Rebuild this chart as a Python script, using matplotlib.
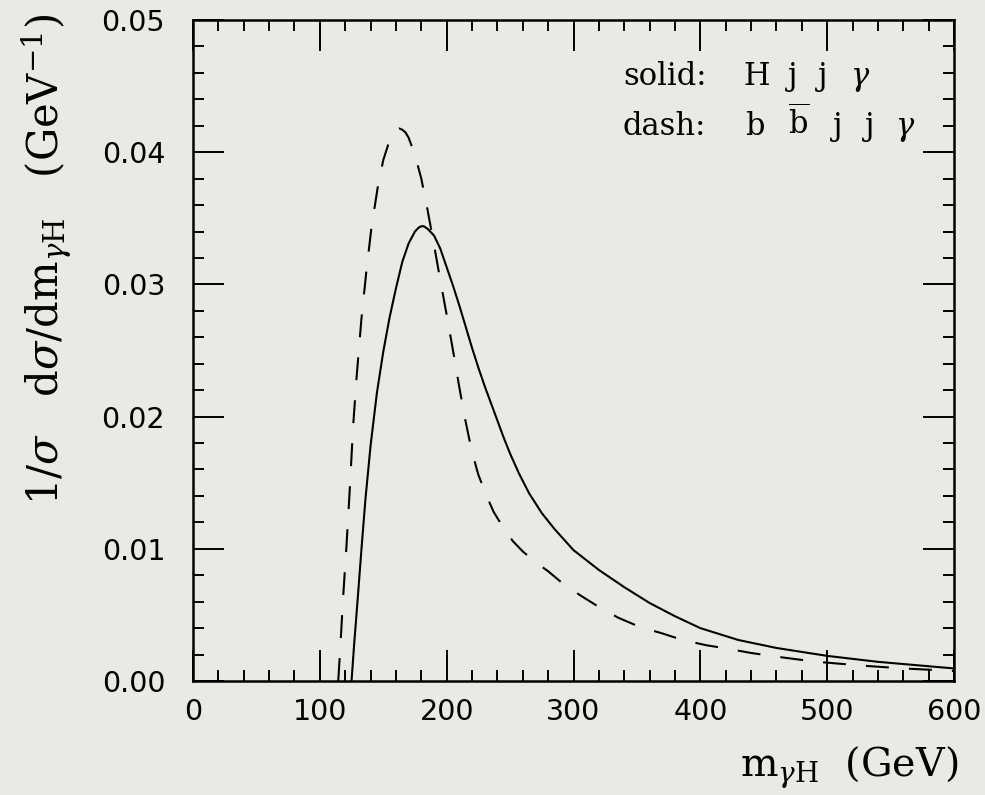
import matplotlib
matplotlib.use("Agg")
import matplotlib.pyplot as plt
from matplotlib.ticker import MultipleLocator, FormatStrFormatter

# ---- data ----
solid_x = [125, 127, 130, 133, 136, 140, 145, 150, 155, 160, 165, 170, 175, 178,
           180, 182, 185, 190, 195, 200, 205, 210, 215, 220, 225, 230, 235, 240,
           245, 250, 257, 265, 275, 285, 300, 320, 340, 360, 380, 400, 430, 460,
           500, 540, 570, 600]
solid_y = [0.0, 0.0027, 0.0064, 0.0102, 0.0138, 0.0178, 0.0218, 0.0249, 0.0275,
           0.0297, 0.0317, 0.0331, 0.0340, 0.0343, 0.0344, 0.0344, 0.0342, 0.0337,
           0.0327, 0.0313, 0.0299, 0.0284, 0.0268, 0.0252, 0.0237, 0.0223, 0.0210,
           0.0197, 0.0184, 0.0172, 0.0157, 0.0142, 0.0127, 0.0115, 0.0099, 0.0084,
           0.0071, 0.0059, 0.0049, 0.0040, 0.0031, 0.0025, 0.0019, 0.00145, 0.0012,
           0.00095]

dash_x = [114.5, 116, 118.4, 121, 123.6, 126.2, 129, 132.8, 136.8, 140.7, 145.9,
          150, 155, 157.5, 160, 162.5, 165, 167.5, 170, 175, 180, 185, 190, 195,
          200, 205, 210, 215, 220, 225, 231, 237, 244, 252, 260, 270, 280, 290,
          305, 320, 335, 352, 370, 386, 405, 420, 440, 465, 491, 528, 560, 600]
dash_y = [0.0, 0.0023, 0.0064, 0.0102, 0.0145, 0.0192, 0.0230, 0.0274, 0.0311,
          0.0343, 0.0375, 0.0394, 0.0409, 0.0414, 0.0417, 0.0418, 0.0417, 0.0415,
          0.0411, 0.0398, 0.0380, 0.0356, 0.0330, 0.0303, 0.0277, 0.0250, 0.0222,
          0.0196, 0.0173, 0.0156, 0.0141, 0.0128, 0.0117, 0.0106, 0.0098, 0.0090,
          0.0083, 0.0075, 0.0065, 0.0056, 0.0048, 0.0041, 0.0036, 0.0031, 0.0027,
          0.00247, 0.00212, 0.00178, 0.00146, 0.00116, 0.00095, 0.00076]

x_ticks = [0, 100, 200, 300, 400, 500, 600]
y_ticks = [0.00, 0.01, 0.02, 0.03, 0.04, 0.05]

legend_solid = ["solid:", "H", "j", "j", r"$\gamma$"]
legend_dash = ["dash:", "b", r"$\overline{\mathrm{b}}$", "j", "j", r"$\gamma$"]

# ---- style ----
plt.rcParams['lines.scale_dashes'] = False
plt.rcParams['mathtext.fontset'] = 'dejavuserif'
bg = '#e9e9e5'
W, H = 985, 795

fig = plt.figure(figsize=(W/100, H/100), dpi=100, facecolor=bg)
ax = fig.add_axes([193/W, 114/H, 761/W, 661/H])
ax.set_facecolor(bg)

ax.plot(solid_x, solid_y, color='black', lw=1.5, solid_capstyle='butt',
        solid_joinstyle='round')
ax.plot(dash_x, dash_y, color='black', lw=1.5, linestyle=(0, (16.5, 14.5)),
        dash_capstyle='butt', dash_joinstyle='round')

ax.set_xlim(0, 600)
ax.set_ylim(0, 0.05)
ax.set_xticks(x_ticks)
ax.set_yticks(y_ticks)
ax.xaxis.set_minor_locator(MultipleLocator(20))
ax.yaxis.set_minor_locator(MultipleLocator(0.002))
ax.yaxis.set_major_formatter(FormatStrFormatter('%.2f'))

for s in ax.spines.values():
    s.set_linewidth(1.8)

ax.tick_params(which='both', direction='in', top=True, right=True, width=1.4,
               colors='black')
ax.tick_params(which='major', length=22, labelsize=20.5)
ax.tick_params(axis='x', which='major', pad=12)
ax.tick_params(axis='y', which='major', pad=20)
ax.tick_params(which='minor', length=8)
for lab in ax.get_xticklabels() + ax.get_yticklabels():
    lab.set_family('DejaVu Sans')

# legend-like annotation, token by token (pixel x positions of the reference)
solid_px = [623, 743, 788, 818, 850]
dash_px = [623, 745, 788, 833, 865, 895]
for toks, pxs, base in ((legend_solid, solid_px, 85), (legend_dash, dash_px, 135)):
    for t, px in zip(toks, pxs):
        fig.text(px/W, (H-base)/H, t, family='DejaVu Serif', fontsize=22,
                 va='baseline', ha='left')

fig.text(958/W, (H-777)/H, r"m$_{\gamma\mathrm{H}}$  (GeV)",
         family='DejaVu Serif', fontsize=28.5, ha='right', va='baseline')
fig.text(47/W, (H-259)/H,
         r"1/$\sigma$   d$\sigma$/dm$_{\gamma\mathrm{H}}$   (GeV$^{-1}$)",
         family='DejaVu Serif', fontsize=30, rotation=90, ha='center', va='center')

fig.savefig('out.png', dpi=100, facecolor=bg)
